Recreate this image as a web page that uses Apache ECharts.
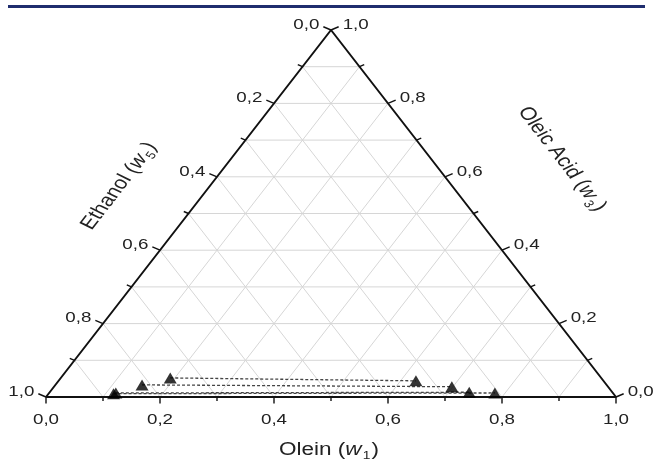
<!DOCTYPE html>
<html><head><meta charset="utf-8">
<script src="https://cdn.jsdelivr.net/npm/echarts@6/dist/echarts.min.js"></script>
<style>html,body{margin:0;padding:0;background:#fff}#c{width:655px;height:464px}</style>
</head><body><div id="c"></div>
<script>
// ---- data ----
const tickValues = [0, 0.1, 0.2, 0.3, 0.4, 0.5, 0.6, 0.7, 0.8, 0.9, 1.0];
const majorLabels = ['0,0', '0,2', '0,4', '0,6', '0,8', '1,0'];
const gridValues = [0.1, 0.2, 0.3, 0.4, 0.5, 0.6, 0.7, 0.8, 0.9];
// tie lines: ethanol-rich phase (left end) and olein-rich phase (right end), mass fractions
const ethanolPhaseOlein = [0.192, 0.152, 0.117, 0.114];
const ethanolPhaseOleic = [0.052, 0.033, 0.011, 0.009];
const oleinPhaseOlein   = [0.627, 0.698, 0.736, 0.782];
const oleinPhaseOleic   = [0.044, 0.028, 0.013, 0.011];
const axisNames = ['Olein', 'Ethanol', 'Oleic Acid'];
const axisSubs  = ['1', '5', '3'];

// ---- helpers ----
const FONT = '"Liberation Sans", Arial, sans-serif';
const TS = 1.25;               // horizontal stretch of the figure text
const TXT = '#222';
function cart(olein, oleic) { return [olein + oleic / 2, oleic]; }

const chart = echarts.init(document.getElementById('c'), null, {renderer: 'canvas'});

function seg(api, p, q, style) {
  const a = api.coord(p), b = api.coord(q);
  return {type: 'line', shape: {x1: a[0], y1: a[1], x2: b[0], y2: b[1]}, style: style};
}

const gridSeries = {
  type: 'custom', coordinateSystem: 'cartesian2d', silent: true, z: 1,
  data: gridValues.map(v => [v, 0]),
  renderItem(params, api) {
    const v = api.value(0);
    const st = {stroke: '#d6d6d6', lineWidth: 1};
    return {type: 'group', children: [
      seg(api, cart(v, 0), cart(v, 1 - v), st),
      seg(api, cart(0, v), cart(1 - v, v), st),
      seg(api, cart(1 - v, 0), cart(0, 1 - v), st)
    ]};
  }
};

const tickSeries = {
  type: 'custom', coordinateSystem: 'cartesian2d', silent: true, z: 4,
  data: tickValues.map(v => [v, 0]),
  renderItem(params, api) {
    const v = api.value(0);
    const k = Math.round(v * 10);
    const major = k % 2 === 0;
    const L = major ? 6.5 : 4;
    const st = {stroke: '#111', lineWidth: 1.4};
    const children = [];
    const txt = (x, y, text, align, va) => ({
      type: 'text', x: x, y: y, scaleX: TS,
      style: {text: text, fontSize: 15, fontFamily: FONT, fill: TXT, align: align, verticalAlign: va}
    });
    // bottom axis (Olein)
    const pb = api.coord(cart(v, 0));
    children.push({type: 'line', shape: {x1: pb[0], y1: pb[1], x2: pb[0], y2: pb[1] + L}, style: st});
    // left axis (Ethanol): ethanol = v
    const pl = api.coord(cart(0, 1 - v));
    const ldx = -1.18 * L, ldy = -0.5 * L;
    children.push({type: 'line', shape: {x1: pl[0], y1: pl[1], x2: pl[0] + ldx, y2: pl[1] + ldy}, style: st});
    // right axis (Oleic acid): oleic = v
    const pr = api.coord(cart(1 - v, v));
    children.push({type: 'line', shape: {x1: pr[0], y1: pr[1], x2: pr[0] - ldx, y2: pr[1] + ldy}, style: st});
    if (major) {
      const lab = majorLabels[k / 2];
      children.push(txt(pb[0], pb[1] + L + 16, lab, 'center', 'middle'));
      children.push(txt(pl[0] + ldx - 4, pl[1] + ldy - 2, lab, 'right', 'middle'));
      children.push(txt(pr[0] - ldx + 4, pr[1] + ldy - 2, lab, 'left', 'middle'));
    }
    return {type: 'group', children: children};
  }
};

const series = [gridSeries, tickSeries, {
  type: 'line', z: 3, symbol: 'none', silent: true,
  data: [cart(0, 0), cart(1, 0), cart(0, 1), cart(0, 0)],
  lineStyle: {color: '#111', width: 2}
}];

ethanolPhaseOlein.forEach((_, i) => {
  series.push({
    type: 'line', z: 4, symbol: 'none', silent: true,
    data: [cart(ethanolPhaseOlein[i], ethanolPhaseOleic[i]), cart(oleinPhaseOlein[i], oleinPhaseOleic[i])],
    lineStyle: {color: '#444', width: 1.3, type: [3, 2]}
  });
});

series.push({
  type: 'scatter', z: 6, symbol: 'triangle', symbolSize: [13, 11],
  itemStyle: {color: '#000'},
  data: ethanolPhaseOlein.map((a, i) => cart(a, ethanolPhaseOleic[i]))
    .concat(oleinPhaseOlein.map((a, i) => cart(a, oleinPhaseOleic[i])))
});

function titleText(i) {
  return '{n|' + axisNames[i] + ' (}{i|w}{s|' + axisSubs[i] + '}{n|)}';
}
const richStyle = {
  n: {fontSize: 18, fontFamily: FONT, fill: TXT},
  i: {fontSize: 18, fontFamily: FONT, fontStyle: 'italic', fill: TXT},
  s: {fontSize: 11, fontFamily: FONT, fill: TXT, padding: [12, 1, 0, 1]}
};
const edgeAngle = Math.atan(Math.tan(Math.atan2(367, 285)) * TS);

function titleGroup(x, y, rot, i) {
  return {
    type: 'group', x: x, y: y, scaleX: TS, silent: true,
    children: [{
      type: 'text', rotation: rot,
      style: {text: titleText(i), rich: richStyle, align: 'center', verticalAlign: 'middle',
              fontSize: 18, fontFamily: FONT, fill: TXT}
    }]
  };
}

chart.setOption({
  animation: false,
  grid: {left: 46, top: 30, width: 570, height: 367, containLabel: false},
  xAxis: {type: 'value', min: 0, max: 1, show: false},
  yAxis: {type: 'value', min: 0, max: 1, show: false},
  graphic: [
    {type: 'rect', shape: {x: 8, y: 5, width: 637, height: 3}, style: {fill: '#1f2d6e'}, silent: true},
    titleGroup(329, 450, 0, 0),
    titleGroup(119, 186, edgeAngle, 1),
    titleGroup(562, 159, -edgeAngle, 2)
  ],
  series: series
});
</script>
</body></html>
